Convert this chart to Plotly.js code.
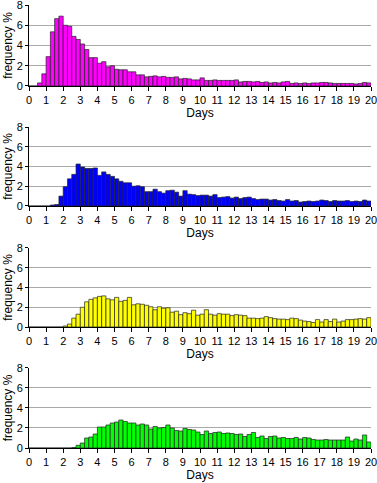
<!DOCTYPE html>
<html>
<head>
<meta charset="utf-8">
<script src="https://cdn.plot.ly/plotly-3.0.1.min.js"></script>
<style>html,body{margin:0;padding:0;background:#fff;}#chart{width:377px;height:483px;}</style>
</head>
<body>
<div id="chart"></div>
<script>
// bin width in days, bins from 0 to 20
const binWidth = 0.25;
const xTicks = [0,1,2,3,4,5,6,7,8,9,10,11,12,13,14,15,16,17,18,19,20];
const yTicks = [0,2,4,6,8];

const magenta = [0,0,0.3,1.2,2.9,5.35,6.65,6.9,6.0,5.9,
  4.9,4.6,4.15,3.6,2.8,2.8,2.25,2.4,1.9,2.0,
  1.65,1.6,1.6,1.4,1.4,1.1,1.1,0.9,0.95,1.0,
  0.9,0.95,0.85,0.85,0.9,0.7,0.75,0.7,0.6,0.6,
  0.8,0.55,0.55,0.6,0.55,0.55,0.55,0.55,0.6,0.4,
  0.45,0.45,0.4,0.45,0.35,0.4,0.3,0.35,0.3,0.4,
  0.45,0.25,0.3,0.25,0.3,0.25,0.3,0.3,0.35,0.35,
  0.3,0.25,0.25,0.25,0.25,0.25,0.2,0.25,0.35,0.3];

const blue = [0,0,0,0,0,0.1,0.15,1.0,1.95,2.75,
  3.2,4.25,3.95,3.8,3.8,3.85,3.1,3.45,3.2,3.0,
  2.75,2.5,2.35,2.35,2.0,2.05,1.95,1.45,1.45,1.7,
  1.45,1.3,1.55,1.6,1.4,1.0,1.55,1.2,1.15,1.05,
  1.1,1.1,1.0,1.15,0.85,0.9,0.95,0.8,0.9,0.75,
  0.85,0.9,0.75,0.65,0.7,0.7,0.6,0.65,0.55,0.5,
  0.65,0.5,0.55,0.4,0.45,0.5,0.45,0.5,0.6,0.55,
  0.45,0.55,0.5,0.5,0.55,0.45,0.5,0.45,0.6,0.5];

const yellow = [0,0,0,0,0,0,0,0,0.1,0.3,
  0.9,1.3,2.0,2.55,2.8,2.95,3.1,3.15,2.85,2.75,
  3.0,2.6,2.7,3.0,2.25,2.35,2.3,2.2,2.05,1.75,
  2.05,1.9,1.95,1.5,1.6,1.25,1.45,1.35,1.7,1.2,
  1.3,1.75,1.3,1.2,1.35,1.3,1.3,1.15,1.25,1.2,
  1.15,0.9,0.9,0.85,0.9,1.05,0.95,0.85,0.8,0.8,
  0.75,0.9,0.85,0.7,0.6,0.55,0.45,0.75,0.5,0.75,
  0.55,0.8,0.5,0.6,0.75,0.75,0.8,0.85,0.8,0.95];

const green = [0,0,0,0,0,0,0,0,0,0,
  0.05,0.27,0.5,1.0,1.1,1.4,2.1,2.1,2.3,2.5,
  2.6,2.8,2.65,2.5,2.5,2.3,2.4,2.3,1.9,2.15,
  2.0,2.05,2.3,2.0,1.75,1.7,1.95,1.85,1.8,1.6,
  1.35,1.7,1.45,1.55,1.6,1.45,1.5,1.45,1.35,1.4,
  1.15,1.35,1.55,1.05,1.2,0.95,1.15,1.2,1.0,1.05,
  0.95,0.95,1.05,0.9,1.05,1.0,0.85,0.8,0.8,0.85,
  0.8,0.8,0.8,0.8,1.1,0.7,0.9,0.8,1.3,0.6];

const series = [magenta, blue, yellow, green];
const colors = ['#FF00FF', '#0000FF', '#FFFF00', '#00FF00'];
const domains = [[0.8172,1.0],[0.5463,0.7246],[0.2731,0.4515],[0.0,0.1806]];

const centers = magenta.map((_, i) => i * binWidth + binWidth / 2);

const data = series.map((vals, k) => ({
  type: 'bar',
  x: centers,
  y: vals,
  width: binWidth,
  xaxis: k === 0 ? 'x' : 'x' + (k + 1),
  yaxis: k === 0 ? 'y' : 'y' + (k + 1),
  marker: {color: colors[k], line: {color: '#222', width: 0.7}},
  hoverinfo: 'skip',
  showlegend: false
}));

const font = {family: 'Liberation Sans, Arial, sans-serif', size: 11, color: '#000'};
const layout = {
  width: 377, height: 483,
  margin: {l: 29, r: 6, t: 5, b: 35},
  paper_bgcolor: '#fff', plot_bgcolor: '#fff',
  font: font,
  bargap: 0,
  showlegend: false
};

for (let k = 0; k < 4; k++) {
  const sfx = k === 0 ? '' : String(k + 1);
  layout['xaxis' + sfx] = {
    domain: [0, 1], anchor: 'y' + sfx,
    range: [0, 20], tickvals: xTicks, ticktext: xTicks.map(String),
    ticks: 'outside', ticklen: 4, tickcolor: '#000',
    ticklabeloverflow: 'allow',
    showline: true, linecolor: '#000', linewidth: 1,
    showgrid: false, zeroline: false,
    tickfont: {size: 11},
    title: {text: 'Days', font: {size: 12}, standoff: 1},
    fixedrange: true
  };
  layout['yaxis' + sfx] = {
    domain: domains[k], anchor: 'x' + sfx,
    range: [0, 8], tickvals: yTicks, ticktext: yTicks.map(String),
    ticks: 'outside', ticklen: 3, tickcolor: '#000',
    ticklabeloverflow: 'allow',
    showline: true, linecolor: '#000', linewidth: 1,
    showgrid: true, gridcolor: '#aaa', gridwidth: 1, zeroline: false,
    tickfont: {size: 11},
    title: {text: 'frequency %', font: {size: 12}, standoff: 1},
    fixedrange: true
  };
}

Plotly.newPlot('chart', data, layout, {displayModeBar: false, staticPlot: true});
</script>
</body>
</html>
